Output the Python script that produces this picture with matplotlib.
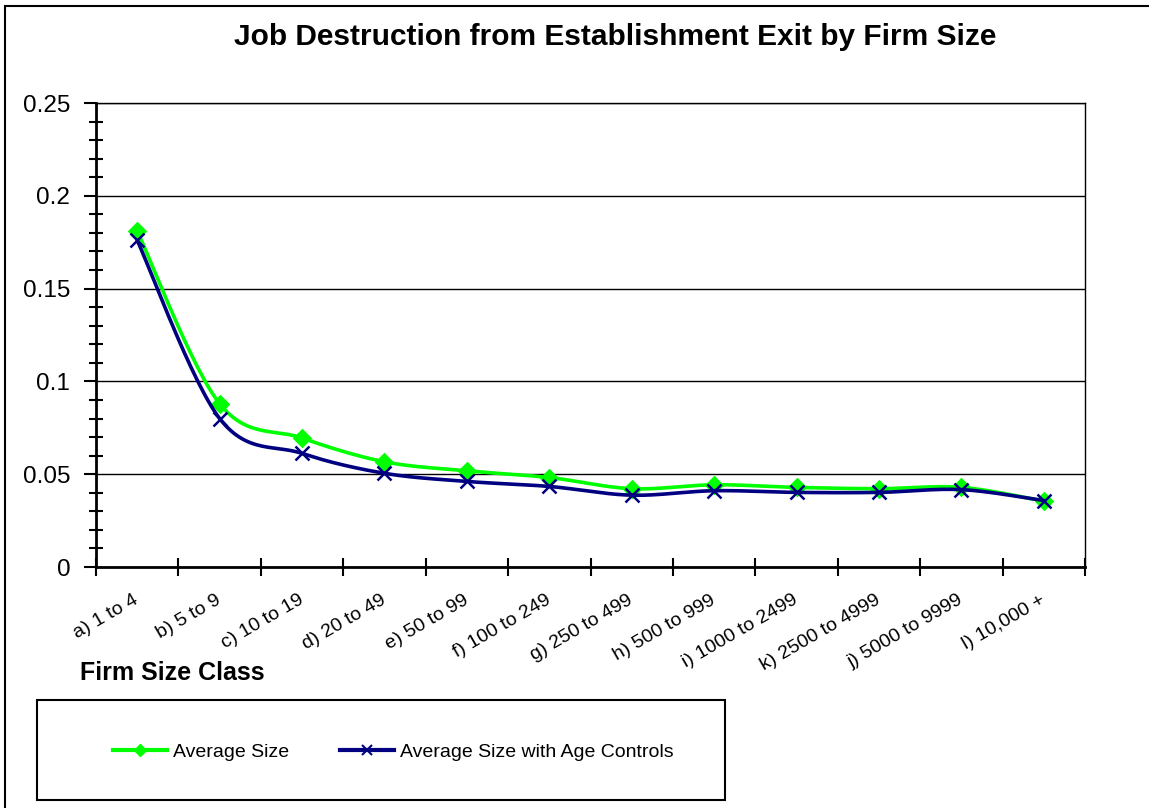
import numpy as np
import matplotlib
matplotlib.use("agg")
import matplotlib.pyplot as plt
from matplotlib.lines import Line2D
from matplotlib.patches import Rectangle

plt.rcParams['font.family'] = ['Liberation Sans', 'DejaVu Sans']

categories = ['a) 1 to 4', 'b) 5 to 9', 'c) 10 to 19', 'd) 20 to 49', 'e) 50 to 99',
              'f) 100 to 249', 'g) 250 to 499', 'h) 500 to 999', 'i) 1000 to 2499',
              'k) 2500 to 4999', 'j) 5000 to 9999', 'l) 10,000 +']
avg_size = [0.181, 0.088, 0.0695, 0.0567, 0.0518, 0.0482, 0.0422, 0.0443, 0.0429,
            0.0422, 0.0429, 0.0355]
avg_size_age = [0.176, 0.080, 0.0612, 0.0505, 0.0461, 0.0434, 0.0387, 0.0411, 0.0402,
                0.0402, 0.0417, 0.0358]

GREEN = '#00ff00'
NAVY = '#000080'
W, H = 1149, 808


def smooth(xs, ys, n=30):
    # excel style smoothed line: catmull-rom bezier segments between the points
    pts = np.column_stack([np.asarray(xs, float), np.asarray(ys, float)])
    out = []
    t = np.linspace(0, 1, n)[:, None]
    for i in range(len(pts) - 1):
        p0 = pts[max(i - 1, 0)]
        p1 = pts[i]
        p2 = pts[i + 1]
        p3 = pts[min(i + 2, len(pts) - 1)]
        c1 = p1 + (p2 - p0) / 6.0
        c2 = p2 - (p3 - p1) / 6.0
        seg = ((1 - t) ** 3) * p1 + 3 * ((1 - t) ** 2) * t * c1 + 3 * (1 - t) * t ** 2 * c2 + t ** 3 * p2
        out.append(seg if i == 0 else seg[1:])
    out = np.vstack(out)
    return out[:, 0], out[:, 1]


fig = plt.figure(figsize=(W / 100, H / 100), dpi=100)
ax = fig.add_axes([96 / W, 1 - 567 / H, (1085 - 96) / W, (567 - 103) / H])

x = np.arange(len(categories))
for vals, col, mk, ms, z in [(avg_size, GREEN, 'D', 8, 3), (avg_size_age, NAVY, 'x', 10, 4)]:
    sx, sy = smooth(x, vals)
    ax.plot(sx, sy, color=col, lw=2.6, zorder=z, solid_capstyle='round')
    ax.plot(x, vals, ls='none', marker=mk, ms=ms, color=col, mew=1.8, zorder=z)

ax.set_xlim(-0.5, len(categories) - 0.5)
ax.set_ylim(0, 0.25)
ax.set_yticks([0, 0.05, 0.1, 0.15, 0.2, 0.25])
ax.set_yticklabels(['0', '0.05', '0.1', '0.15', '0.2', '0.25'], fontsize=17.5)
ax.set_yticks(np.arange(0, 0.2501, 0.01), minor=True)
ax.yaxis.grid(True, which='major', color='black', lw=1)
ax.set_axisbelow(True)

ax.set_xticks(np.arange(-0.5, len(categories)))
ax.set_xticklabels([])
ax.set_xticks(x, minor=True)
ax.set_xticklabels(categories, minor=True, rotation=30, ha='right', va='center',
                   rotation_mode='anchor', fontsize=14)
ax.tick_params(axis='x', which='major', direction='inout', length=13, width=1.5)
ax.tick_params(axis='x', which='minor', length=0, pad=23)
ax.tick_params(axis='y', which='major', direction='out', length=9, width=1.5, pad=9.5)
ax.tick_params(axis='y', which='minor', direction='inout', length=10, width=1.5)

for s in ['left', 'bottom']:
    ax.spines[s].set_linewidth(2)
for s in ['top', 'right']:
    ax.spines[s].set_linewidth(1)

fig.text(615 / W, 1 - 37 / H, 'Job Destruction from Establishment Exit by Firm Size',
         fontsize=21.5, fontweight='bold', ha='center', va='center')
fig.text(80 / W, 1 - 673 / H, 'Firm Size Class', fontsize=18, fontweight='bold',
         ha='left', va='center')

# outer chart border (runs off the right and bottom edges)
fig.patches.append(Rectangle((5 / W, -10 / H), 1200 / W, (H + 4) / H, transform=fig.transFigure,
                             fill=False, ec='black', lw=1.5))
# legend box
fig.patches.append(Rectangle((37 / W, 1 - 800 / H), 688 / W, 100 / H, transform=fig.transFigure,
                             fill=False, ec='black', lw=1.5))

handles = [Line2D([], [], color=GREEN, lw=3, marker='D', ms=6),
           Line2D([], [], color=NAVY, lw=3, marker='x', ms=7, mew=1.5)]
leg = fig.legend(handles, ['Average Size', 'Average Size with Age Controls'], ncol=2,
                 loc='center left', bbox_to_anchor=(113 / W, 1 - 752 / H),
                 frameon=False, fontsize=14, borderpad=0, borderaxespad=0,
                 handlelength=2.8, handletextpad=0.3, columnspacing=2.6)

fig.savefig('out.png', dpi=100)
